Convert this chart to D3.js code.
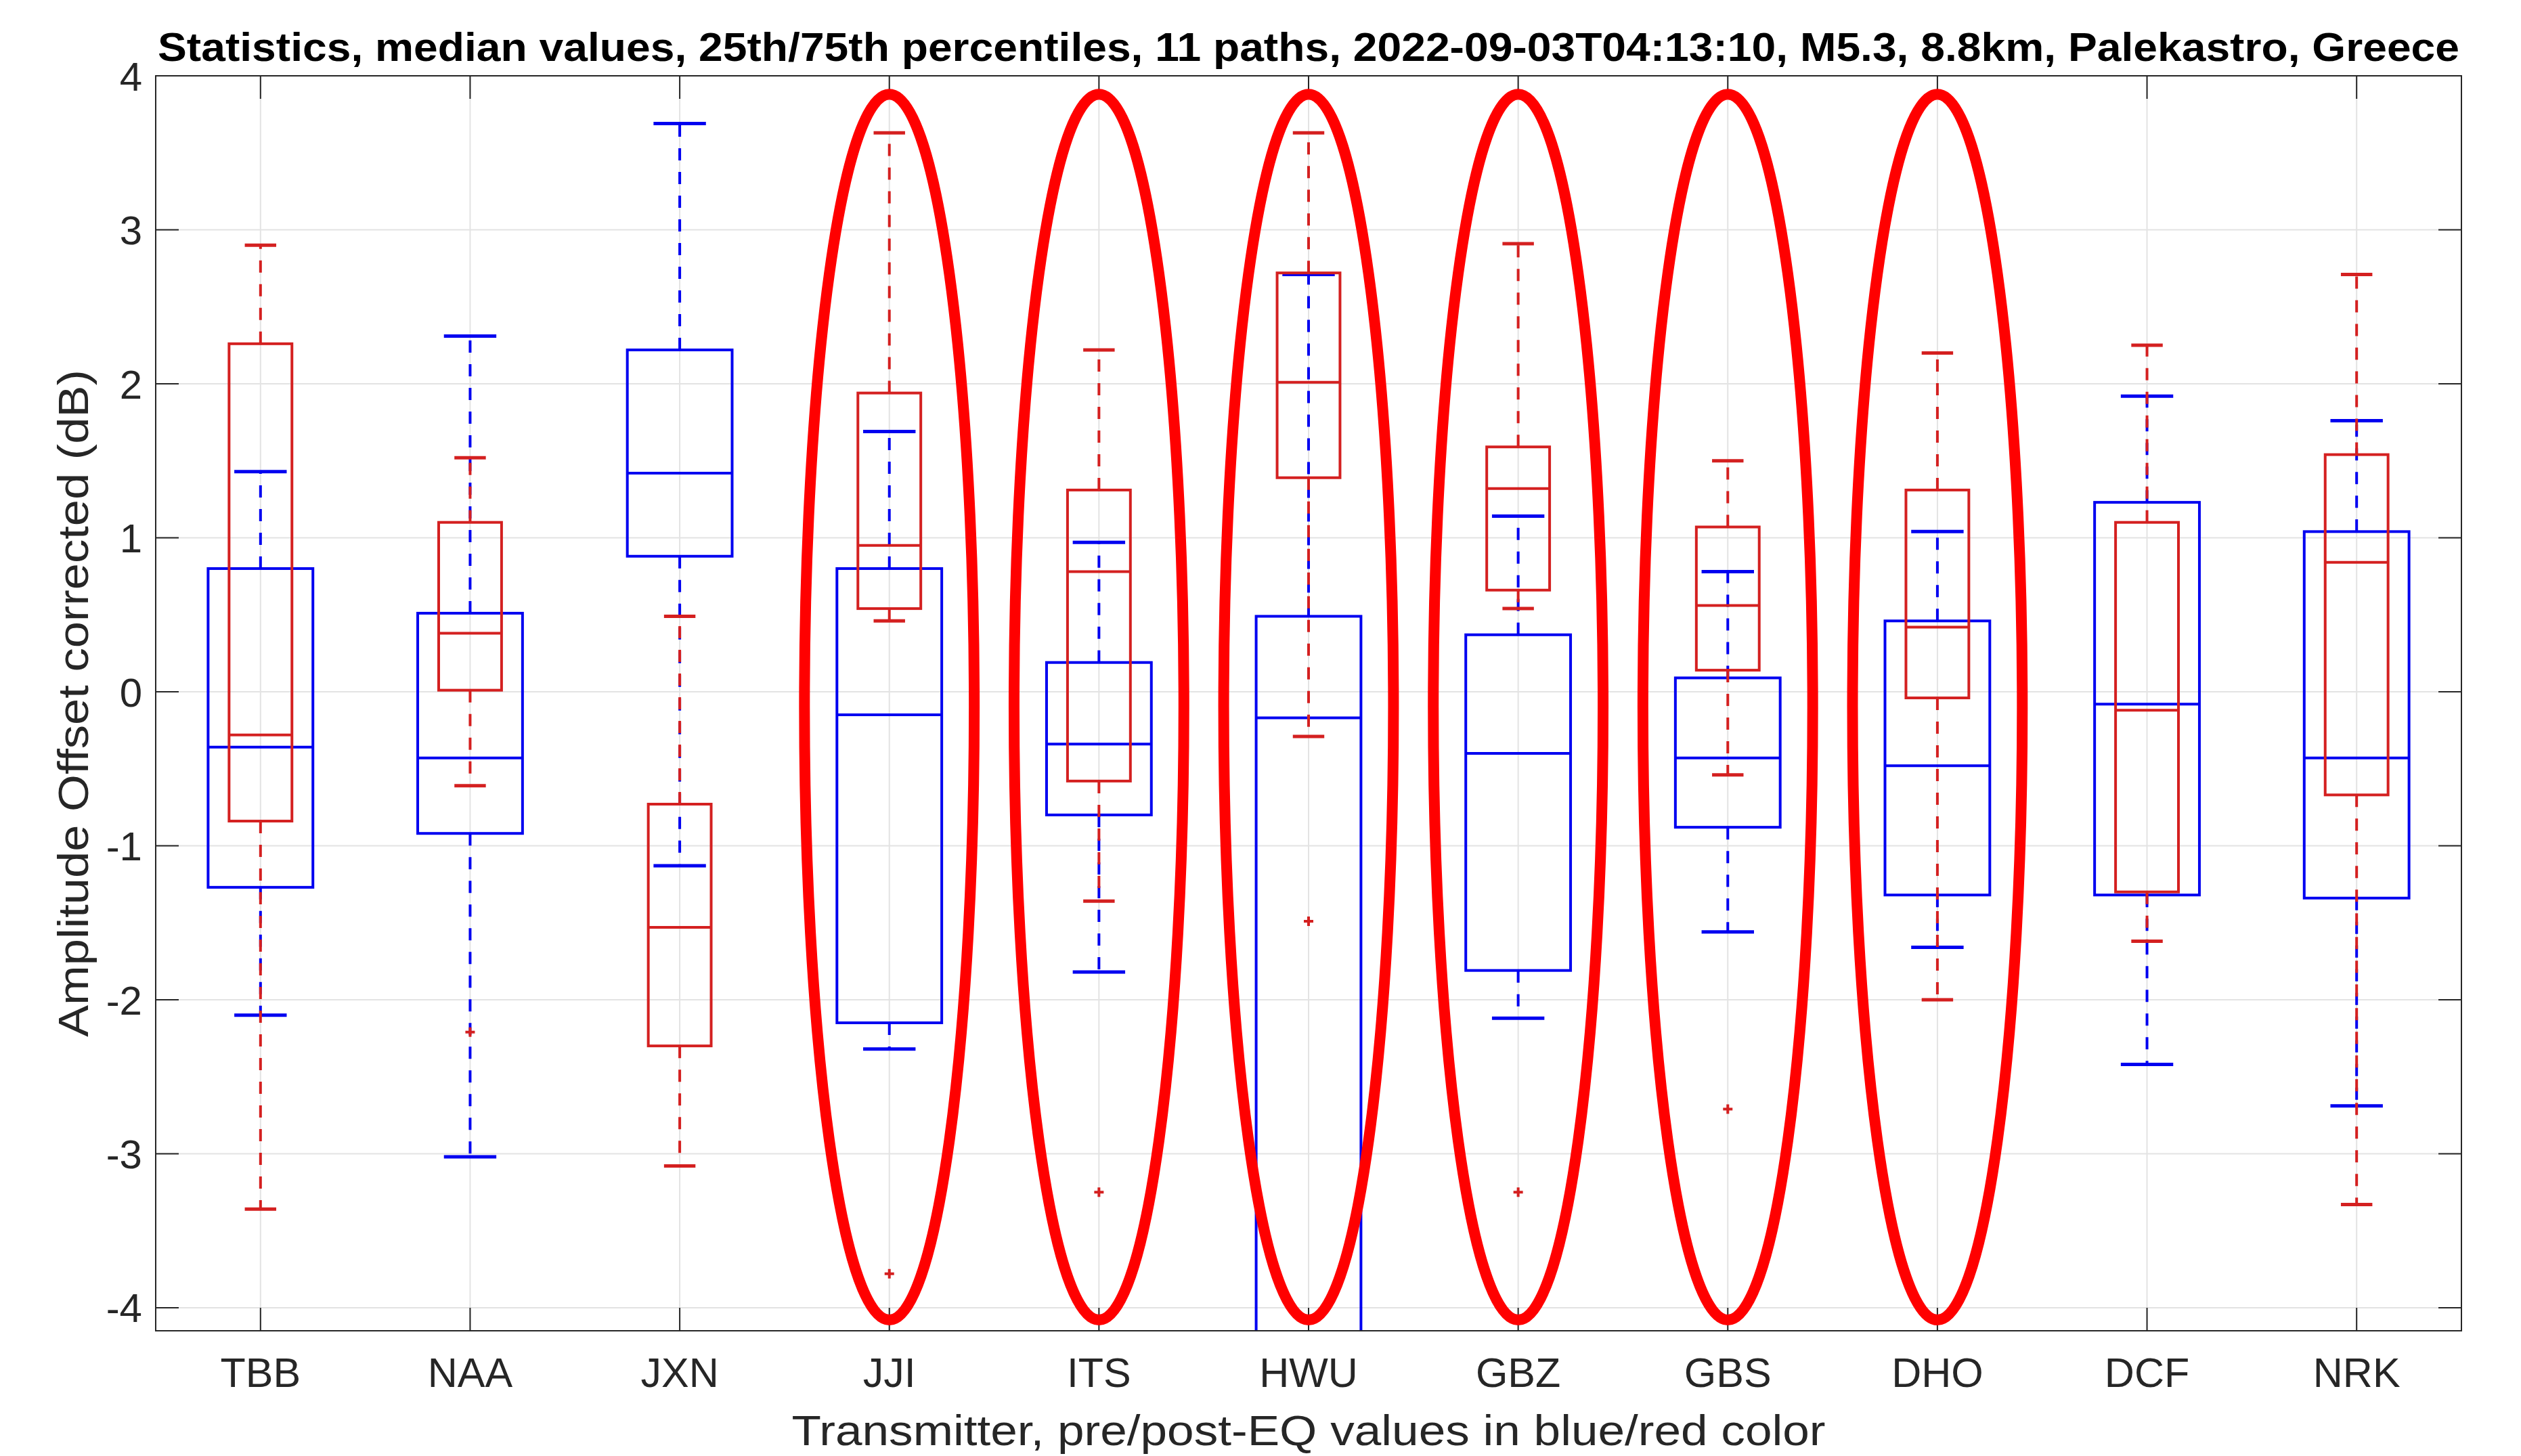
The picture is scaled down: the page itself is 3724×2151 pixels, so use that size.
<!DOCTYPE html>
<html>
<head>
<meta charset="utf-8">
<script src="https://cdn.jsdelivr.net/npm/d3@7"></script>
<style>
  html, body { margin: 0; padding: 0; background: #ffffff; }
  svg { display: block; }
</style>
</head>
<body>
<svg id="chart" width="3724" height="2151"></svg>
<script>
// ---------------- DATA ----------------
const categories = ["TBB","NAA","JXN","JJI","ITS","HWU","GBZ","GBS","DHO","DCF","NRK"];

// pre-EQ (blue): whisker high, 75th pct, median, 25th pct, whisker low
const preHigh   = [1.43, 2.31, 3.69, 1.69, 0.97, 2.71, 1.14, 0.78, 1.04, 1.92, 1.76];
const preQ3     = [0.80, 0.51, 2.22, 0.80, 0.19, 0.49, 0.37, 0.09, 0.46, 1.23, 1.04];
const preMedian = [-0.36, -0.43, 1.42, -0.15, -0.34, -0.17, -0.40, -0.43, -0.48, -0.08, -0.43];
const preQ1     = [-1.27, -0.92, 0.88, -2.15, -0.80, -4.60, -1.81, -0.88, -1.32, -1.32, -1.34];
const preLow    = [-2.10, -3.02, -1.13, -2.32, -1.82, -6.00, -2.12, -1.56, -1.66, -2.42, -2.69];

// post-EQ (red)
const postHigh   = [2.90, 1.52, 0.49, 3.63, 2.22, 3.63, 2.91, 1.50, 2.20, 2.25, 2.71];
const postQ3     = [2.26, 1.10, -0.73, 1.94, 1.31, 2.72, 1.59, 1.07, 1.31, 1.10, 1.54];
const postMedian = [-0.28, 0.38, -1.53, 0.95, 0.78, 2.01, 1.32, 0.56, 0.42, -0.12, 0.84];
const postQ1     = [-0.84, 0.01, -2.30, 0.54, -0.58, 1.39, 0.66, 0.14, -0.04, -1.30, -0.67];
const postLow    = [-3.36, -0.61, -3.08, 0.46, -1.36, -0.29, 0.54, -0.54, -2.00, -1.62, -3.33];
const postOutlierCat = ["NAA","JJI","ITS","HWU","GBZ","GBS"];
const postOutlierVal = [-2.21, -3.78, -3.25, -1.49, -3.25, -2.71];

// highlighted transmitters (red ellipses), in data units
const highlighted = ["JJI","ITS","HWU","GBZ","GBS","DHO"];
const ellipseCenterY = -0.10;
const ellipseHalfHeight = 3.98;
const ellipseHalfWidth = 0.405;

const yTicks = [-4, -3, -2, -1, 0, 1, 2, 3, 4];
const titleText = "Statistics, median values, 25th/75th percentiles, 11 paths, 2022-09-03T04:13:10, M5.3, 8.8km, Palekastro, Greece";
const xLabelText = "Transmitter, pre/post-EQ values in blue/red color";
const yLabelText = "Amplitude Offset corrected (dB)";

// ---------------- LAYOUT ----------------
const L = 230, R = 3636, T = 112, B = 1966;
const BLUE = "#0000f0", RED = "#d42020", ELL = "#ff0000", AX = "#262626";

const svg = d3.select("#chart");
const x = d3.scaleLinear().domain([0.5, 11.5]).range([L, R]);
const y = d3.scaleLinear().domain([-4.15, 4]).range([B, T]);
const xc = c => x(categories.indexOf(c) + 1);
const w = d => x(d) - x(0); // width of d category units

svg.append("defs").append("clipPath").attr("id", "plotclip")
  .append("rect").attr("x", L).attr("y", T).attr("width", R - L).attr("height", B - T);

// grid
const grid = svg.append("g");
grid.selectAll("line.gy").data(yTicks).join("line")
  .attr("x1", L).attr("x2", R).attr("y1", d => y(d)).attr("y2", d => y(d))
  .attr("stroke", "#e3e3e3").attr("stroke-width", 2);
grid.selectAll("line.gx").data(categories).join("line")
  .attr("x1", d => xc(d)).attr("x2", d => xc(d)).attr("y1", T).attr("y2", B)
  .attr("stroke", "#e3e3e3").attr("stroke-width", 2);

// boxes
const plot = svg.append("g").attr("clip-path", "url(#plotclip)");

function drawSeries(hi, q3, med, q1, lo, color, boxW, capW) {
  const g = plot.append("g");
  const rows = categories.map((c, i) => ({c, hi: hi[i], q3: q3[i], med: med[i], q1: q1[i], lo: lo[i]}));
  g.selectAll("line.wu").data(rows).join("line")
    .attr("x1", d => xc(d.c)).attr("x2", d => xc(d.c))
    .attr("y1", d => y(d.q3)).attr("y2", d => y(d.hi))
    .attr("stroke", color).attr("stroke-width", 4).attr("stroke-dasharray", "18,17");
  g.selectAll("line.wl").data(rows).join("line")
    .attr("x1", d => xc(d.c)).attr("x2", d => xc(d.c))
    .attr("y1", d => y(d.q1)).attr("y2", d => y(d.lo))
    .attr("stroke", color).attr("stroke-width", 4).attr("stroke-dasharray", "18,17");
  ["hi", "lo"].forEach(k => {
    g.selectAll("line.cap" + k).data(rows).join("line")
      .attr("x1", d => xc(d.c) - w(capW) / 2).attr("x2", d => xc(d.c) + w(capW) / 2)
      .attr("y1", d => y(d[k])).attr("y2", d => y(d[k]))
      .attr("stroke", color).attr("stroke-width", 5);
  });
  g.selectAll("rect").data(rows).join("rect")
    .attr("x", d => xc(d.c) - w(boxW) / 2).attr("width", w(boxW))
    .attr("y", d => y(d.q3)).attr("height", d => y(d.q1) - y(d.q3))
    .attr("fill", "none").attr("stroke", color).attr("stroke-width", 4);
  g.selectAll("line.med").data(rows).join("line")
    .attr("x1", d => xc(d.c) - w(boxW) / 2).attr("x2", d => xc(d.c) + w(boxW) / 2)
    .attr("y1", d => y(d.med)).attr("y2", d => y(d.med))
    .attr("stroke", color).attr("stroke-width", 4);
}

drawSeries(preHigh, preQ3, preMedian, preQ1, preLow, BLUE, 0.5, 0.25);
drawSeries(postHigh, postQ3, postMedian, postQ1, postLow, RED, 0.3, 0.15);

// outliers '+'
const outl = postOutlierCat.map((c, i) => ({c, v: postOutlierVal[i]}));
plot.append("g").selectAll("path").data(outl).join("path")
  .attr("d", d => `M${xc(d.c) - 7},${y(d.v)}h14M${xc(d.c)},${y(d.v) - 7}v14`)
  .attr("stroke", RED).attr("stroke-width", 4).attr("fill", "none");

// axes box and ticks
const ax = svg.append("g");
ax.append("rect").attr("x", L).attr("y", T).attr("width", R - L).attr("height", B - T)
  .attr("fill", "none").attr("stroke", AX).attr("stroke-width", 2);
ax.selectAll("line.tl").data(yTicks).join("line")
  .attr("x1", L).attr("x2", L + 34).attr("y1", d => y(d)).attr("y2", d => y(d))
  .attr("stroke", AX).attr("stroke-width", 2);
ax.selectAll("line.tr").data(yTicks).join("line")
  .attr("x1", R - 34).attr("x2", R).attr("y1", d => y(d)).attr("y2", d => y(d))
  .attr("stroke", AX).attr("stroke-width", 2);
ax.selectAll("line.tb").data(categories).join("line")
  .attr("x1", d => xc(d)).attr("x2", d => xc(d)).attr("y1", B).attr("y2", B - 34)
  .attr("stroke", AX).attr("stroke-width", 2);
ax.selectAll("line.tt").data(categories).join("line")
  .attr("x1", d => xc(d)).attr("x2", d => xc(d)).attr("y1", T).attr("y2", T + 34)
  .attr("stroke", AX).attr("stroke-width", 2);

// ellipses
svg.append("g").selectAll("ellipse").data(highlighted).join("ellipse")
  .attr("cx", d => xc(d)).attr("cy", y(ellipseCenterY))
  .attr("rx", w(ellipseHalfWidth)).attr("ry", y(ellipseCenterY - ellipseHalfHeight) - y(ellipseCenterY))
  .attr("fill", "none").attr("stroke", ELL).attr("stroke-width", 16);

// tick labels
const font = "'Liberation Sans', Arial, Helvetica, sans-serif";
svg.append("g").selectAll("text").data(yTicks).join("text")
  .attr("x", 210).attr("y", d => y(d)).attr("dy", "0.36em")
  .attr("text-anchor", "end").attr("font-family", font).attr("font-size", 60)
  .attr("fill", AX).text(d => d);
svg.append("g").selectAll("text").data(categories).join("text")
  .attr("x", d => xc(d)).attr("y", 2049)
  .attr("text-anchor", "middle").attr("font-family", font).attr("font-size", 61)
  .attr("fill", AX).text(d => d);

// labels
svg.append("text").attr("x", (L + R) / 2).attr("y", 2135)
  .attr("text-anchor", "middle").attr("font-family", font).attr("font-size", 63)
  .attr("fill", AX).attr("textLength", 1527).attr("lengthAdjust", "spacingAndGlyphs")
  .text(xLabelText);
svg.append("text").attr("transform", `translate(130,${(T + B) / 2}) rotate(-90)`)
  .attr("text-anchor", "middle").attr("font-family", font).attr("font-size", 63)
  .attr("fill", AX).attr("textLength", 986).attr("lengthAdjust", "spacingAndGlyphs")
  .text(yLabelText);
svg.append("text").attr("x", (L + R) / 2).attr("y", 90)
  .attr("text-anchor", "middle").attr("font-family", font).attr("font-size", 60)
  .attr("font-weight", "bold").attr("fill", "#000")
  .attr("textLength", 3400).attr("lengthAdjust", "spacingAndGlyphs")
  .text(titleText);
</script>
</body>
</html>
